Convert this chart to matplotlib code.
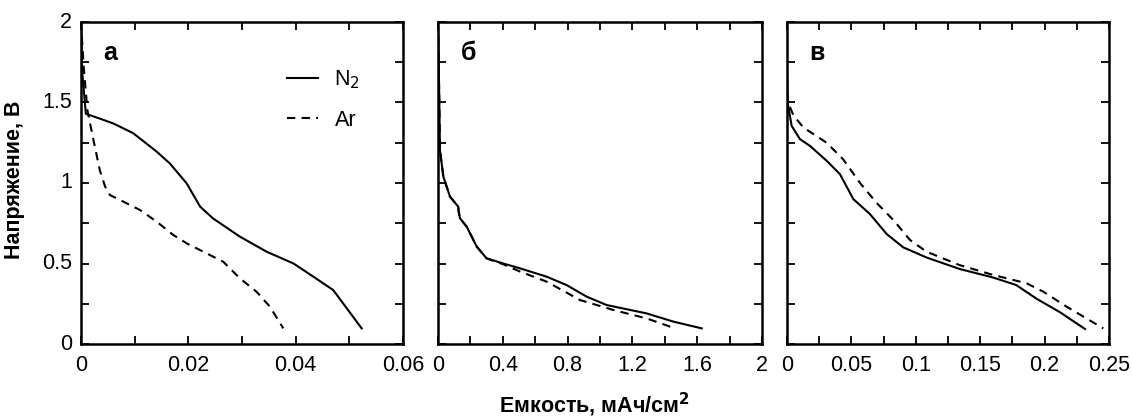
import matplotlib
matplotlib.use("Agg")
import matplotlib.pyplot as plt
from matplotlib.ticker import MultipleLocator

plt.rcParams["font.family"] = ["Liberation Sans", "DejaVu Sans"]

# panel a
a_n2_x = [0.0, 0.0002, 0.0009, 0.0035, 0.006, 0.0097, 0.0141, 0.0166, 0.0197, 0.0222,
          0.0246, 0.0296, 0.0346, 0.0396, 0.0433, 0.047, 0.0523]
a_n2_y = [2.0, 1.7, 1.43, 1.40, 1.37, 1.31, 1.195, 1.12, 0.997, 0.853,
          0.78, 0.667, 0.573, 0.50, 0.418, 0.335, 0.097]
a_ar_x = [0.0, 0.0005, 0.0012, 0.0023, 0.0035, 0.0045, 0.0054, 0.0073, 0.011, 0.0141,
          0.0172, 0.0197, 0.0234, 0.0265, 0.0296, 0.0327, 0.0352, 0.0377]
a_ar_y = [2.0, 1.72, 1.45, 1.27, 1.08, 0.977, 0.925, 0.894, 0.832, 0.76,
          0.677, 0.625, 0.563, 0.511, 0.408, 0.325, 0.232, 0.097]

# panel b
b_n2_x = [0.0, 0.008, 0.012, 0.033, 0.074, 0.125, 0.128, 0.136, 0.177, 0.239, 0.30,
          0.403, 0.506, 0.671, 0.794, 0.918, 1.041, 1.288, 1.453, 1.628]
b_n2_y = [2.0, 1.516, 1.205, 1.04, 0.915, 0.853, 0.82, 0.78, 0.729, 0.605, 0.532,
          0.50, 0.47, 0.418, 0.366, 0.294, 0.242, 0.19, 0.139, 0.097]
b_ar_x = [0.0, 0.008, 0.012, 0.033, 0.074, 0.125, 0.128, 0.136, 0.177, 0.239, 0.30,
          0.403, 0.506, 0.671, 0.877, 1.083, 1.288, 1.463]
b_ar_y = [2.0, 1.516, 1.205, 1.04, 0.915, 0.853, 0.82, 0.78, 0.729, 0.605, 0.532,
          0.495, 0.45, 0.387, 0.273, 0.211, 0.159, 0.097]

# panel c
c_n2_x = [0.0, 0.0005, 0.0036, 0.010, 0.0179, 0.0308, 0.0411, 0.0515, 0.0644, 0.0774,
          0.0903, 0.1084, 0.134, 0.160, 0.178, 0.194, 0.212, 0.2314]
c_n2_y = [1.73, 1.50, 1.355, 1.273, 1.23, 1.138, 1.055, 0.90, 0.807, 0.683,
          0.60, 0.537, 0.466, 0.413, 0.366, 0.28, 0.197, 0.093]
c_ar_x = [0.0, 0.0008, 0.005, 0.0127, 0.0308, 0.0437, 0.0567, 0.0696, 0.0826, 0.0955,
          0.1084, 0.134, 0.160, 0.186, 0.199, 0.217, 0.2456]
c_ar_y = [1.56, 1.50, 1.42, 1.345, 1.25, 1.146, 1.0, 0.876, 0.77, 0.646,
          0.573, 0.49, 0.429, 0.377, 0.325, 0.232, 0.097]

y_ticks = [0, 0.5, 1, 1.5, 2]
y_labels = ["0", "0.5", "1", "1.5", "2"]

panels = [
    ("а", a_n2_x, a_n2_y, a_ar_x, a_ar_y, 0.06, 0.01, [0, 0.02, 0.04, 0.06], ["0", "0.02", "0.04", "0.06"]),
    ("б", b_n2_x, b_n2_y, b_ar_x, b_ar_y, 2.0, 0.2, [0, 0.4, 0.8, 1.2, 1.6, 2.0], ["0", "0.4", "0.8", "1.2", "1.6", "2"]),
    ("в", c_n2_x, c_n2_y, c_ar_x, c_ar_y, 0.25, 0.025, [0, 0.05, 0.1, 0.15, 0.2, 0.25], ["0", "0.05", "0.1", "0.15", "0.2", "0.25"]),
]
lefts = [81, 438, 787]
rights = [403, 762, 1109]

W, H = 1132, 419
fig = plt.figure(figsize=(W / 100, H / 100), dpi=100)
FS = 15.5

for i, (letter, nx, ny, ax_, ay, xmax, xstep, xt, xtl) in enumerate(panels):
    ax = fig.add_axes([lefts[i] / W, (H - 344) / H, (rights[i] - lefts[i]) / W, 322 / H])
    ax.plot(nx, ny, color="black", lw=1.5, label="N$_2$")
    ax.plot(ax_, ay, color="black", lw=1.5, dashes=(4, 3), label="Ar")
    ax.set_xlim(0, xmax)
    ax.set_ylim(0, 2)
    ax.xaxis.set_major_locator(MultipleLocator(xstep))
    ax.yaxis.set_major_locator(MultipleLocator(0.25))
    ax.xaxis.set_major_formatter(plt.NullFormatter())
    ax.yaxis.set_major_formatter(plt.NullFormatter())
    ax.tick_params(which="both", direction="in", top=True, right=True, length=6, width=1.3)
    for s in ax.spines.values():
        s.set_linewidth(1.8)
    for v, t in zip(xt, xtl):
        ax.text(v, -0.035, t, transform=ax.get_xaxis_transform(), ha="center", va="top", fontsize=FS)
    if i == 0:
        for v, t in zip(y_ticks, y_labels):
            ax.text(-0.028, v, t, transform=ax.get_yaxis_transform(), ha="right", va="center", fontsize=FS)
        ax.legend(loc="upper left", bbox_to_anchor=(0.58, 0.915), frameon=False,
                  fontsize=FS, handlelength=1.45, labelspacing=0.85, handletextpad=0.75)
    ax.text(0.07, 0.905, letter, transform=ax.transAxes, fontsize=18, fontweight="bold",
            ha="left", va="center")

fig.text(15 / W, 1 - 180 / H, "Напряжение, В", rotation=90, ha="center", va="center",
         fontsize=FS, fontweight="bold")
fig.text(594 / W, 1 - 405 / H, "Емкость, мАч/см$^\\mathbf{2}$", ha="center", va="center",
         fontsize=FS, fontweight="bold")

fig.savefig("out.png", dpi=100)
